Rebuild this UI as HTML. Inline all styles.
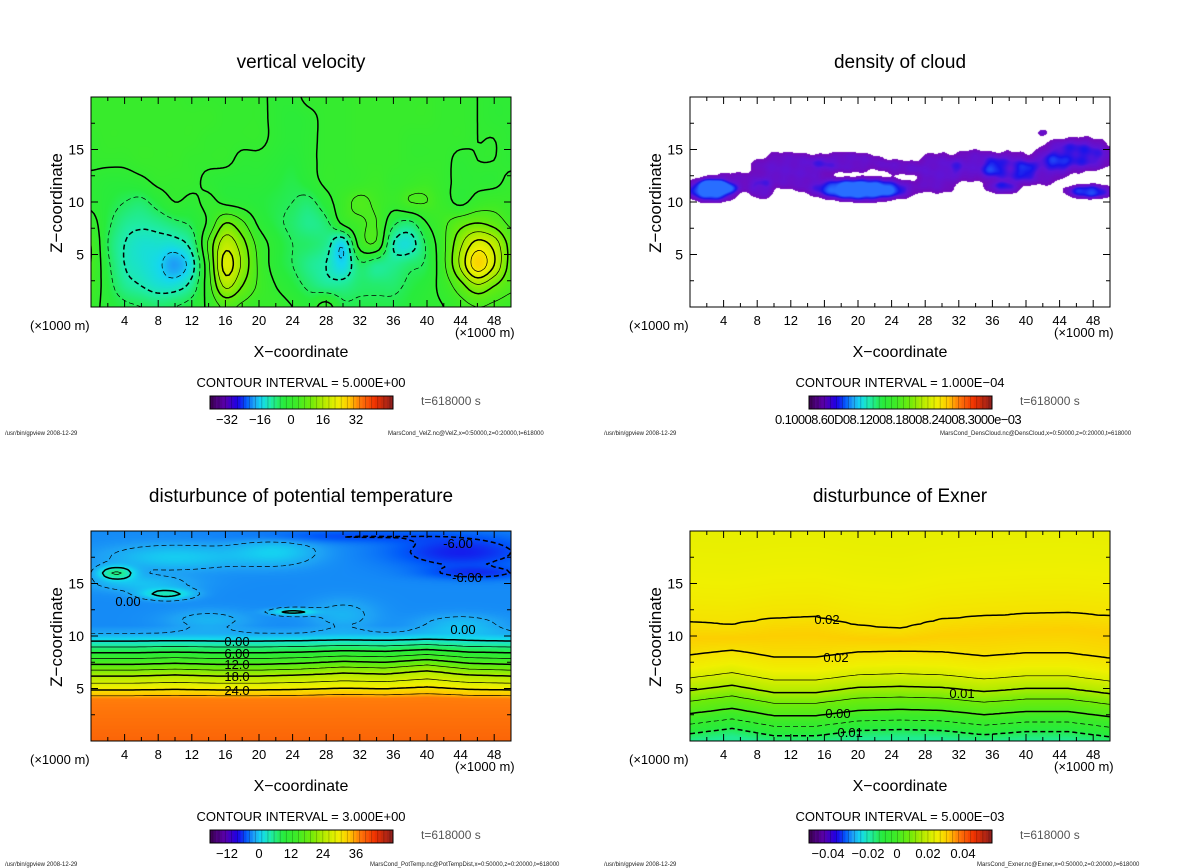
<!DOCTYPE html>
<html><head><meta charset="utf-8">
<style>
html,body{margin:0;padding:0;background:#fff;}
body{width:1200px;height:868px;position:relative;overflow:hidden;font-family:"Liberation Sans",sans-serif;}
canvas{position:absolute;}
svg{position:absolute;left:0;top:0;}
text{font-family:"Liberation Sans",sans-serif;}
</style></head>
<body>
<canvas id="c1" width="420" height="210" style="left:91px;top:97px"></canvas>
<canvas id="c2" width="420" height="210" style="left:690px;top:97px"></canvas>
<canvas id="c3" width="420" height="210" style="left:91px;top:531px"></canvas>
<canvas id="c4" width="420" height="210" style="left:690px;top:531px"></canvas>
<svg id="s" width="1200" height="868"></svg>
<script>
// ---------- data ----------
// Panel 1: vertical velocity grid, rows from z=20 down to z=0 (step 2 km), cols x=0..50 step 2 km
const velRows = [
[2,2,2,2,2,2,1,1,1,1,1,-1,-1,1,1,1,2,2,2,2,2,1,1,0,-1,-1],
[2,2,2,2,2,2,2,2,1,1,1,-1,-2,-1,1,1,2,2,2,2,2,1,1,0,-1,-1],
[1,2,2,2,2,2,2,1,1,1,1,-1,-2,-1,1,1,2,2,2,1,1,1,1,0,0,-1],
[1,1,1,2,2,2,1,1,1,-1,-1,-2,-3,-1,1,1,2,2,2,1,1,1,-1,0,0,-1],
[-1,-2,-2,-1,1,1,1,-1,-2,-2,-2,-3,-4,-2,1,1,2,3,1,2,3,1,-1,-1,-1,1],
[-1,-3,-5,-6,-3,0,-1,1,-1,-2,-3,-4,-5,-6,-2,3,6,4,2,5,5,2,-1,2,3,2],
[2,-4,-8,-9,-8,-6,-4,1,10,6,-1,-4,-6,-8,-6,1,4,5,-4,-6,0,4,8,10,8,4],
[5,-5,-10,-12,-12,-12,-8,6,18,12,3,-2,-5,-6,-8,-14,2,4,-10,-12,-4,4,14,22,18,8],
[5,-4,-10,-12,-14,-18,-12,4,22,14,4,-2,-5,-8,-10,-14,-6,-8,-8,-6,-4,4,16,28,20,8],
[4,-3,-8,-10,-12,-12,-8,3,16,10,4,0,-3,-6,-8,-8,-6,-6,-6,-4,-2,2,8,14,10,6],
[2,-2,-4,-5,-6,-5,-3,1,6,4,2,2,0,-2,2,-4,-4,-4,-4,-3,-1,0,3,5,4,3]
];
const velLevels = [-20,-15,-10,-5,0,5,10,15,20,25];
// Panel 2: cloud blobs [x km, z km, rx, rz, amplitude]
const cloudBlobs = [
[2.5,11.1,3.0,1.1,1.8],[4.5,11.8,3.5,1.0,0.7],[8.5,11.2,1.5,1.0,0.8],
[12,13,5,1.8,0.9],[19,13.8,4.5,1.0,0.8],[20.5,11.2,6,1.1,2.0],
[25,13.3,2.5,0.8,0.7],[29.5,12.8,2.8,2,0.9],[34,13.5,3,1.5,0.9],
[38,13,3,1.8,1.1],[37,11.3,2,0.6,0.7],[42,13,3,1.4,0.8],
[46,14.5,4.5,1.6,1.3],[47.5,11,2.8,0.7,1.5],[42,16.6,0.6,0.3,0.8]
];
// Panel 3: potential temperature profile
const ptZ = [0,4,4.3,4.86,5.5,6.2,6.75,7.3,7.85,8.4,8.95,9.5,10.2,11,20];
const ptV = [31,29.5,27,24,21,18,15,12,9,6,3,0,-3,-4,-4];
const ptShift = [0,0,0.1,0,0,0.1,0.3,0.2,0.5,0.1,0];
// [x, z, rx, rz, amplitude]
const ptPatches = [
[10,17.5,8,1.2,2.5],[22,18,5,1.3,2.5],[6,15,6,0.8,2],[14,11.5,5,1,1.5],
[30,12,4,1.5,1.5],[44,11,5,1,2],[3,16,2,0.6,7],[9,14,3,0.5,5],[24,12.3,2.5,0.3,5],
[44,18,8,1.5,-3.5],[30,19.5,12,0.6,-2],[46,16,6,0.6,-2.5]
];
const ptLevels = [-6,-3,0,3,6,9,12,15,18,21,24,27];
// Panel 4: Exner profile
const exZ = [0,0.8,1.7,2.7,3.9,4.9,6.1,7,8.3,10,11.6,14,17,20];
const exV = [-0.014,-0.01,-0.005,0,0.005,0.01,0.015,0.018,0.02,0.0225,0.02,0.0185,0.0175,0.017];
const exShiftUpper = [-0.3,-0.5,0.1,0.2,-0.6,-0.9,0,0.3,0.5,0.6,0.3];
const exShiftLower = [-0.1,0.4,-0.3,-0.3,0.2,0.3,0.2,-0.2,0.1,0.1,-0.4];
const exLevels = [-0.01,-0.005,0,0.005,0.01,0.015,0.02];
// axis ticks
const xTicks = [4,8,12,16,20,24,28,32,36,40,44,48];
const yTicks = [5,10,15];
const cbLabels1 = ["−32","−16","0","16","32"];
const cbLabels3 = ["−12","0","12","24","36"];
const cbLabels4 = ["−0.04","−0.02","0","0.02","0.04"];

// ---------- helpers ----------
const W=420,H=210,XMAX=50,ZMAX=20;
const rb=[[0,60,0,80],[0.08,90,0,170],[0.15,30,0,230],[0.2,0,90,250],[0.24,30,160,245],[0.28,20,215,240],[0.33,30,235,170],[0.4,40,235,60],[0.47,60,235,40],[0.55,110,235,10],[0.62,180,235,0],[0.7,240,240,0],[0.76,255,200,0],[0.82,255,120,10],[0.9,240,50,0],[1.0,140,30,30]];
function rainbow(t){t=Math.max(0,Math.min(1,t));for(let i=1;i<rb.length;i++){if(t<=rb[i][0]){const a=rb[i-1],b=rb[i],f=(t-a[0])/(b[0]-a[0]);return [a[1]+f*(b[1]-a[1]),a[2]+f*(b[2]-a[2]),a[3]+f*(b[3]-a[3])];}}return [140,30,30];}
function interp1(xs,vs,x){if(x<=xs[0])return vs[0];for(let i=1;i<xs.length;i++){if(x<=xs[i]){const f=(x-xs[i-1])/(xs[i]-xs[i-1]);return vs[i-1]+f*(vs[i]-vs[i-1]);}}return vs[vs.length-1];}
function arrAt(arr,x){const p=x/XMAX*(arr.length-1);const i=Math.max(0,Math.min(arr.length-2,Math.floor(p)));const f=p-i;return arr[i]+f*(arr[i+1]-arr[i]);}
function cr(p0,p1,p2,p3,t){return p1+0.5*t*(p2-p0+t*(2*p0-5*p1+4*p2-p3+t*(3*(p1-p2)+p3-p0)));}
const velGrid = velRows.slice().reverse();
function gv(r,c){r=Math.max(0,Math.min(velGrid.length-1,r));c=Math.max(0,Math.min(velGrid[0].length-1,c));return velGrid[r][c];}
function fVel(x,z){const px=x/2,pz=z/2;const c=Math.floor(px),r=Math.floor(pz);const tx=px-c,tz=pz-r;const col=[];for(let k=-1;k<3;k++){col.push(cr(gv(r+k,c-1),gv(r+k,c),gv(r+k,c+1),gv(r+k,c+2),tx));}return cr(col[0],col[1],col[2],col[3],tz);}
function fCloud(x,z){let s=0;for(const b of cloudBlobs){const d=((x-b[0])/b[2])**2+((z-b[1])/b[3])**2;s+=b[4]*Math.exp(-d*d);}s+=0.12*Math.sin(x*2.1+z*1.9)*Math.sin(x*1.3-z*2.7);return s;}
function fPT(x,z){let v=interp1(ptZ,ptV,z-arrAt(ptShift,x)*Math.exp(-(((z-7)/2.5)**2)));if(z>9){const w=Math.min(1,(z-9)/1.2);for(const p of ptPatches){v+=w*p[4]*Math.exp(-((((x-p[0])/p[2])**2)+(((z-p[1])/p[3])**2)));}}return v;}
function fEx(x,z){const w=Math.max(0,Math.min(1,(z-8.5)/2));const sh=(1-w)*arrAt(exShiftLower,x)+w*arrAt(exShiftUpper,x);return interp1(exZ,exV,z-sh);}

function render(id,f,colorFn){const c=document.getElementById(id).getContext('2d');const img=c.createImageData(W,H);for(let j=0;j<H;j++){const z=ZMAX-(j+0.5)/H*ZMAX;for(let i=0;i<W;i++){const x=(i+0.5)/W*XMAX;const col=colorFn(f(x,z));const k=(j*W+i)*4;img.data[k]=col[0];img.data[k+1]=col[1];img.data[k+2]=col[2];img.data[k+3]=255;}}c.putImageData(img,0,0);}

const svg=document.getElementById('s');const NS='http://www.w3.org/2000/svg';
function mk(tag,attrs,parent){const e=document.createElementNS(NS,tag);for(const k in attrs)e.setAttribute(k,attrs[k]);(parent||svg).appendChild(e);return e;}

function contourPath(f,level,L,T){const s=3,nx=Math.floor(W/s)+1,ny=Math.floor(H/s)+1;const g=[];for(let j=0;j<ny;j++){const row=[];const z=ZMAX-(j*s)/H*ZMAX;for(let i=0;i<nx;i++){row.push(f(i*s/W*XMAX,z)-level);}g.push(row);}
const pt=new Map(),adj=new Map();
function add(k1,p1,k2,p2){pt.set(k1,p1);pt.set(k2,p2);if(!adj.has(k1))adj.set(k1,[]);if(!adj.has(k2))adj.set(k2,[]);adj.get(k1).push(k2);adj.get(k2).push(k1);}
for(let j=0;j<ny-1;j++){for(let i=0;i<nx-1;i++){const a=g[j][i],b=g[j][i+1],c=g[j+1][i+1],e=g[j+1][i];const pts=[];const X0=L+i*s,Y0=T+j*s;
if((a>0)!==(b>0))pts.push(['h'+i+','+j,[X0+s*a/(a-b),Y0]]);
if((b>0)!==(c>0))pts.push(['v'+(i+1)+','+j,[X0+s,Y0+s*b/(b-c)]]);
if((c>0)!==(e>0))pts.push(['h'+i+','+(j+1),[X0+s*(1-c/(c-e)),Y0+s]]);
if((e>0)!==(a>0))pts.push(['v'+i+','+j,[X0,Y0+s*(1-e/(e-a))]]);
for(let k=0;k+1<pts.length;k+=2)add(pts[k][0],pts[k][1],pts[k+1][0],pts[k+1][1]);}}
const used=new Set();let d='';
function ek(a,b){return a<b?a+'|'+b:b+'|'+a;}
function walk(start){let cur=start;let s2='M'+pt.get(cur)[0].toFixed(1)+' '+pt.get(cur)[1].toFixed(1);let n=0;
while(true){const nb=adj.get(cur).find(x=>!used.has(ek(cur,x)));if(nb===undefined)break;used.add(ek(cur,nb));cur=nb;const p=pt.get(cur);s2+='L'+p[0].toFixed(1)+' '+p[1].toFixed(1);n++;}
if(n>0)d+=s2;}
for(const [k,v] of adj){if(v.length===1&&!used.has(ek(k,v[0])))walk(k);}
for(const [k,v] of adj){if(v.some(x=>!used.has(ek(k,x))))walk(k);}
return d;}

function drawContours(f,levels,L,T,thickTest,name){for(const lv of levels){const d=contourPath(f,lv,L,T);if(!d)continue;const thick=thickTest(lv);const p=mk('path',{d:d,fill:'none',stroke:'#000','stroke-width':thick?1.5:0.7,'stroke-dasharray':lv<0?'5 3':'none','stroke-linejoin':'round'});

}}

function frame(L,T,prefix){const g=mk('g',{});


mk('rect',{x:L,y:T,width:W,height:H,fill:'none',stroke:'#000','stroke-width':1},g);
for(let v=2;v<XMAX;v+=2){const X=L+v/XMAX*W;const len=(v%4===0)?7:4;mk('line',{x1:X,y1:T+H,x2:X,y2:T+H-len,stroke:'#000'},g);mk('line',{x1:X,y1:T,x2:X,y2:T+len,stroke:'#000'},g);}
for(let v=2.5;v<ZMAX;v+=2.5){const Y=T+H-v/ZMAX*H;const len=(v%5===0)?7:4;mk('line',{x1:L,y1:Y,x2:L+len,y2:Y,stroke:'#000'},g);mk('line',{x1:L+W,y1:Y,x2:L+W-len,y2:Y,stroke:'#000'},g);}
for(const v of xTicks){const t=mk('text',{x:L+v/XMAX*W,y:T+H+18,'font-size':13,'text-anchor':'middle'},g);t.textContent=v;

}
for(const v of yTicks){const t=mk('text',{x:L-7,y:T+H-v/ZMAX*H+5,'font-size':14,'text-anchor':'end'},g);t.textContent=v;

}}

function colorbar(x,y,labels,pos,prefix){const g=mk('g',{});


const n=60,w=183/n;for(let i=0;i<n;i++){const c=rainbow((i+0.5)/n);mk('rect',{x:x+i*w,y:y,width:w+0.3,height:13,fill:'rgb('+c.map(Math.round).join(',')+')'},g);if(i%2)mk('line',{x1:x+i*w,y1:y,x2:x+i*w,y2:y+13,stroke:'rgba(0,0,0,0.35)','stroke-width':0.6},g);}
mk('rect',{x:x,y:y,width:183,height:13,fill:'none',stroke:'#000'},g);
if(labels){labels.forEach((l,i)=>{const t=mk('text',{x:x+pos[i],y:y+28,'font-size':13,'text-anchor':'middle'},g);t.textContent=l;

});}}

// ---------- render fields ----------
render('c1',fVel,v=>rainbow((v+40)/92));
render('c2',fCloud,v=>{const th=0.35;if(v<th)return [255,255,255];const t=Math.min(1,(v-th)/1.4);const st=[[0,115,10,185],[0.5,95,20,215],[0.75,25,20,235],[1,40,110,255]];for(let i=1;i<st.length;i++){if(t<=st[i][0]){const a=st[i-1],b=st[i],f=(t-a[0])/(b[0]-a[0]);return [a[1]+f*(b[1]-a[1]),a[2]+f*(b[2]-a[2]),a[3]+f*(b[3]-a[3])];}}return [40,110,255];});
render('c3',fPT,v=>rainbow((v+17)/57));
render('c4',fEx,v=>rainbow((v+0.045)/0.09));

drawContours(fVel,velLevels,91,97,lv=>lv%10===0,'velocity');
drawContours(fPT,ptLevels,91,531,lv=>lv%6===0,'temperature');
drawContours(fEx,exLevels,690,531,lv=>Math.abs(Math.round(lv*1000)%10)===0,'exner');
frame(91,97,'velocity');frame(690,97,'cloud');frame(91,531,'temperature');frame(690,531,'exner');
colorbar(210,396,cbLabels1,[17,50,81,113,146],'velocity');colorbar(809,396,null,null,'cloud');colorbar(210,830,cbLabels3,[17,49,81,113,146],'temperature');colorbar(809,830,cbLabels4,[19,59,88,119,154],'exner');
</script>
<svg width="1200" height="868" style="position:absolute;left:0;top:0">
<g font-family="Liberation Sans, sans-serif" fill="#000">
<text x="301" y="68" font-size="19" text-anchor="middle">vertical velocity</text>
<text x="900" y="68" font-size="19" text-anchor="middle">density of cloud</text>
<text x="301" y="502" font-size="19" text-anchor="middle">disturbunce of potential temperature</text>
<text x="900" y="502" font-size="19" text-anchor="middle">disturbunce of Exner</text>

<text transform="translate(62,203) rotate(-90)" font-size="17" text-anchor="middle">Z−coordinate</text>
<text transform="translate(661,203) rotate(-90)" font-size="17" text-anchor="middle">Z−coordinate</text>
<text transform="translate(62,637) rotate(-90)" font-size="17" text-anchor="middle">Z−coordinate</text>
<text transform="translate(661,637) rotate(-90)" font-size="17" text-anchor="middle">Z−coordinate</text>

<g font-size="13">
<text x="30" y="330">(×1000 m)</text><text x="455" y="337">(×1000 m)</text>
<text x="629" y="330">(×1000 m)</text><text x="1054" y="337">(×1000 m)</text>
<text x="30" y="764">(×1000 m)</text><text x="455" y="771">(×1000 m)</text>
<text x="629" y="764">(×1000 m)</text><text x="1054" y="771">(×1000 m)</text>
</g>
<text x="301" y="357" font-size="16" text-anchor="middle">X−coordinate</text>
<text x="900" y="357" font-size="16" text-anchor="middle">X−coordinate</text>
<text x="301" y="791" font-size="16" text-anchor="middle">X−coordinate</text>
<text x="900" y="791" font-size="16" text-anchor="middle">X−coordinate</text>

<text x="301" y="387" font-size="13" text-anchor="middle">CONTOUR INTERVAL = 5.000E+00</text>
<text x="900" y="387" font-size="13" text-anchor="middle">CONTOUR INTERVAL = 1.000E−04</text>
<text x="301" y="821" font-size="13" text-anchor="middle">CONTOUR INTERVAL = 3.000E+00</text>
<text x="900" y="821" font-size="13" text-anchor="middle">CONTOUR INTERVAL = 5.000E−03</text>

<g font-size="12" fill="#555">
<text x="421" y="405">t=618000 s</text><text x="1020" y="405">t=618000 s</text>
<text x="421" y="839">t=618000 s</text><text x="1020" y="839">t=618000 s</text>
</g>
<text x="775" y="424" font-size="13" letter-spacing="-0.6">0.10008.60D08.12008.18008.24008.3000e−03</text>

<g font-size="6" fill="#222">
<text x="5" y="435">/usr/bin/gpview  2008-12-29</text>
<text x="388" y="435">MarsCond_VelZ.nc@VelZ,x=0:50000,z=0:20000,t=618000</text>
<text x="604" y="435">/usr/bin/gpview  2008-12-29</text>
<text x="940" y="435">MarsCond_DensCloud.nc@DensCloud,x=0:50000,z=0:20000,t=618000</text>
<text x="5" y="866">/usr/bin/gpview  2008-12-29</text>
<text x="370" y="866">MarsCond_PotTemp.nc@PotTempDist,x=0:50000,z=0:20000,t=618000</text>
<text x="604" y="866">/usr/bin/gpview  2008-12-29</text>
<text x="977" y="866">MarsCond_Exner.nc@Exner,x=0:50000,z=0:20000,t=618000</text>
</g>

<g font-size="13">
<text x="237" y="646" text-anchor="middle">0.00</text>
<text x="237" y="658" text-anchor="middle">6.00</text>
<text x="237" y="669" text-anchor="middle">12.0</text>
<text x="237" y="681" text-anchor="middle">18.0</text>
<text x="237" y="695" text-anchor="middle">24.0</text>
<text x="458" y="548" text-anchor="middle">-6.00</text>
<text x="467" y="582" text-anchor="middle">-6.00</text>
<text x="128" y="606" text-anchor="middle">0.00</text>
<text x="463" y="634" text-anchor="middle">0.00</text>
</g>
<g font-size="13">
<text x="827" y="624" text-anchor="middle">0.02</text>
<text x="836" y="662" text-anchor="middle">0.02</text>
<text x="962" y="698" text-anchor="middle">0.01</text>
<text x="838" y="718" text-anchor="middle">0.00</text>
<text x="848" y="737" text-anchor="middle">-0.01</text>
</g>
</g>
</svg>
</body></html>
